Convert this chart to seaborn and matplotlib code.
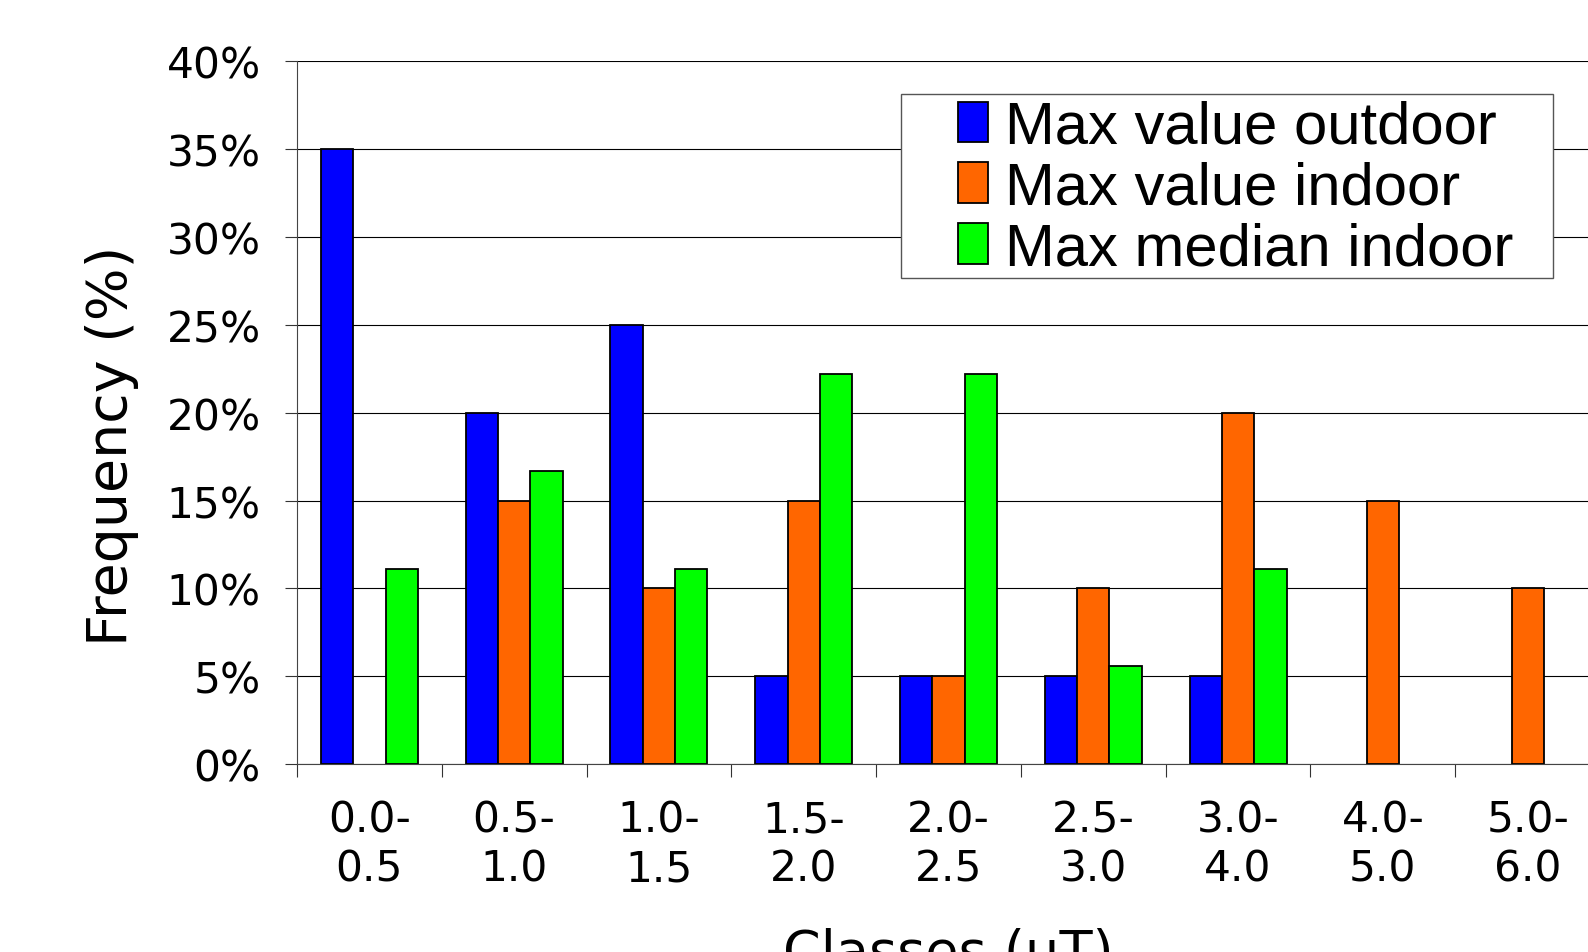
import numpy as np
import pandas as pd
import matplotlib
matplotlib.use('Agg')
import matplotlib.pyplot as plt
from matplotlib.patches import Rectangle
import seaborn as sns

classes = ['0.0-\n0.5', '0.5-\n1.0', '1.0-\n1.5', '1.5-\n2.0', '2.0-\n2.5',
           '2.5-\n3.0', '3.0-\n4.0', '4.0-\n5.0', '5.0-\n6.0']
series_names = ['Max value outdoor', 'Max value indoor', 'Max median indoor']
outdoor = [35, 20, 25, 5, 5, 5, 5, 0, 0]
indoor = [0, 15, 10, 15, 5, 10, 20, 15, 10]
median_indoor = [11.1, 16.7, 11.1, 22.2, 22.2, 5.6, 11.1, 0, 0]
colors = ['#0000FF', '#FF6600', '#00FF00']

# long format for seaborn
df = pd.DataFrame({
    'cls': classes * 3,
    'series': np.repeat(series_names, len(classes)),
    'freq': outdoor + indoor + median_indoor,
})

sns.set_style('white')
plt.rcParams['font.family'] = ['DejaVu Sans']
plt.rcParams.update({'text.color': 'black', 'axes.labelcolor': 'black',
                     'xtick.color': 'black', 'ytick.color': 'black'})

fig = plt.figure(figsize=(15.88, 9.53), dpi=100)
ax = fig.add_axes([0.187, 0.197, 0.8206, 0.738])

sns.barplot(data=df, x='cls', y='freq', hue='series', palette=colors,
            width=0.67, gap=0, edgecolor='black', linewidth=1.3,
            saturation=1, ax=ax)

# empty classes show no bar at all
for cont in ax.containers:
    for bar in cont:
        if bar.get_height() == 0:
            bar.set_visible(False)

ax.set_xlim(-0.5, len(classes) - 0.5)
ax.set_ylim(0, 40)
ax.set_yticks(np.arange(0, 41, 5))
ax.set_yticklabels([f'{v}%' for v in range(0, 41, 5)])
ax.yaxis.grid(True, color='black', linewidth=0.8)
ax.set_axisbelow(True)

# ticks between categories, labels centered under groups
ax.set_xticks(np.arange(len(classes) + 1) - 0.5, minor=True)
ax.tick_params(axis='x', which='minor', bottom=True, length=9, width=0.8, color='#333333')
ax.tick_params(axis='x', which='major', length=0, pad=25, labelsize=30.5)
ax.tick_params(axis='y', left=True, length=9, width=0.8, color='#333333', pad=17, labelsize=30.5)
for lab in ax.get_xticklabels():
    lab.set_linespacing(1.2)

for side in ['top', 'right']:
    ax.spines[side].set_visible(False)
ax.spines['left'].set_color('#444444')
ax.spines['bottom'].set_color('#444444')

ax.set_ylabel('Frequency (%)', fontsize=40, labelpad=20, y=0.454)
ax.set_xlabel('Classes (\u00b5T)', fontsize=39, labelpad=27)

# legend box: wide white frame with the entries inside
ax.add_patch(Rectangle((0.4636, 0.6913), 0.5004, 0.2617, transform=ax.transAxes,
                       facecolor='white', edgecolor='#555555', linewidth=1.0,
                       zorder=4, clip_on=False))
leg = ax.legend(loc='upper right', bbox_to_anchor=(0.943, 0.962),
                frameon=False, prop={'family': 'Liberation Sans', 'size': 43},
                handlelength=0.5, handleheight=0.66, handletextpad=0.3,
                borderpad=0.2, labelspacing=0.1, borderaxespad=0)
leg.set_zorder(5)

fig.savefig('out.png', dpi=100)
